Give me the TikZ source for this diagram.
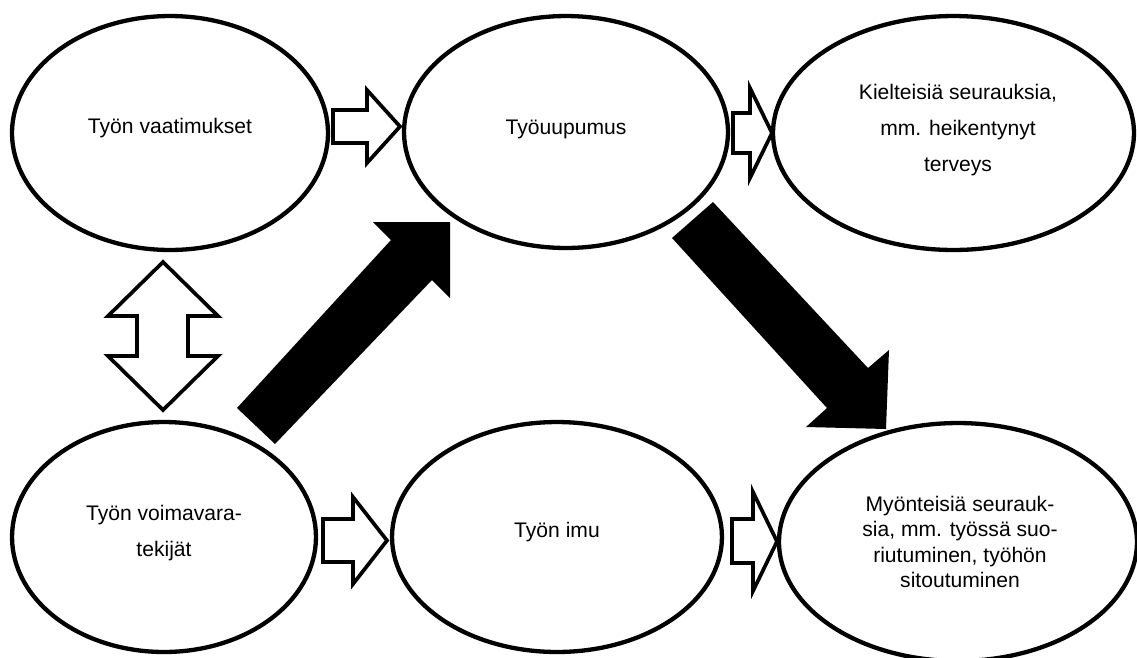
\documentclass[tikz,border=0pt]{standalone}
\usepackage{fontspec}
\setmainfont{Liberation Sans}
\usetikzlibrary{shapes.geometric}
\tikzset{
  ell/.style={draw=black, fill=white, ellipse, line width=2.45pt, inner sep=0pt},
  txt/.style={align=center, font=\fontsize{12pt}{14.5pt}\selectfont, inner sep=0pt},
  hollow/.style={draw=black, fill=white, line width=2.1pt, line join=miter},
  solid/.style={fill=black, draw=none}
}
\begin{document}
\begin{tikzpicture}[x=0.02cm, y=-0.02cm]
\useasboundingbox (0,0) rectangle (1137,657);
\begin{scope}
\clip (0,0) rectangle (1137,657);
% ellipses
\node[ell, minimum width=6.32cm, minimum height=4.68cm] (e1) at (170,133) {};
\node[ell, minimum width=6.48cm, minimum height=4.64cm] (e2) at (566,132) {};
\node[ell, minimum width=7.22cm, minimum height=4.68cm] (e3) at (953.5,133) {};
\node[ell, minimum width=6.08cm, minimum height=4.60cm] (e4) at (164,537) {};
\node[ell, minimum width=6.60cm, minimum height=4.60cm] (e5) at (557,537) {};
\node[ell, minimum width=7.16cm, minimum height=4.76cm] (e6) at (958,542) {};
\end{scope}
% texts
\node[txt] (t1) at (170,128.5) {Työn vaatimukset};
\node[txt] (t2) at (566,129.5) {Työuupumus};
\node[txt] (t3) at (958,130) {Kielteisiä seurauksia,\\[6.2pt] mm. heikentynyt\\[6.2pt] terveys};
\node[txt] (t4) at (164,533) {Työn voimavara-\\[6.5pt] tekijät};
\node[txt] (t5) at (557,532.5) {Työn imu};
\node[txt] (t6) at (960,542) {Myönteisiä seurauk-\\sia, mm. työssä suo-\\riutuminen, työhön\\sitoutuminen};
% hollow block arrows
\draw[hollow] (333,110) -- (367,110) -- (367,90) -- (400,126.5) -- (367,163) -- (367,143) -- (333,143) -- cycle;
\draw[hollow] (733,113) -- (750,113) -- (750,88) -- (772,133) -- (750,178) -- (750,153) -- (733,153) -- cycle;
\draw[hollow] (323,519) -- (353,519) -- (353,497) -- (387,540.5) -- (353,584) -- (353,562) -- (323,562) -- cycle;
\draw[hollow] (732,519) -- (753,519) -- (753,492) -- (777,541.5) -- (753,591) -- (753,563) -- (732,563) -- cycle;
% double vertical arrow
\draw[hollow] (163,262) -- (218,316) -- (188,316) -- (188,356) -- (218,356) -- (163,410) -- (108,356) -- (137,356) -- (137,316) -- (108,316) -- cycle;
% solid arrows
\fill[solid] (237,408) -- (391,240) -- (373,222) -- (450,222) -- (450,298) -- (432,280) -- (275,444) -- cycle;
\fill[solid] (672,238) -- (827,408) -- (806,427) -- (886,429) -- (889,350) -- (868,368) -- (713,202) -- cycle;
\end{tikzpicture}
\end{document}
